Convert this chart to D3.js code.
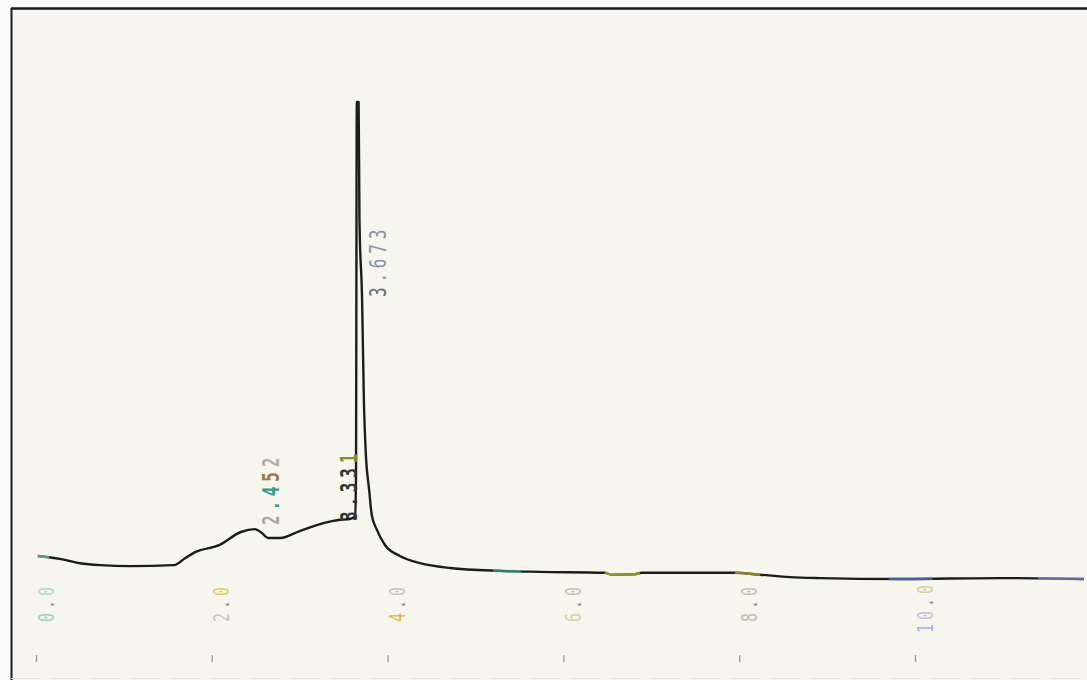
<!DOCTYPE html>
<html><head><meta charset="utf-8">
<script src="https://cdn.jsdelivr.net/npm/d3@7"></script>
<style>
html,body{margin:0;padding:0;background:#fbfbf8;}
svg{display:block;}
</style></head>
<body>
<svg id="c" width="1087" height="680"></svg>
<script>
// Retention time (min) and detector signal (relative units)
const times  = [0.02,0.27,0.50,0.73,1.07,1.57,1.70,1.81,2.09,2.33,2.49,2.57,2.64,2.78,3.00,3.28,3.44,3.57,3.63,3.64,3.65,3.67,3.68,3.71,3.73,3.75,3.79,3.82,3.88,3.97,4.14,4.37,4.71,5.28,5.73,6.47,6.55,6.81,6.89,7.95,8.24,8.58,8.92,9.83,10.97,11.92];
const signal = [5.0,4.4,3.5,3.1,2.9,3.1,4.6,5.8,7.3,10.0,10.6,9.8,8.75,8.75,10.2,11.9,12.5,12.7,13.3,20.8,99.6,99.6,75.0,58.3,37.5,27.1,18.8,13.5,10.4,7.3,5.0,3.5,2.5,1.9,1.7,1.5,1.1,1.2,1.5,1.5,1.1,0.6,0.4,0.2,0.4,0.2];
// Peak labels
const peakTimes  = [2.452, 3.331, 3.673];
const peakLabels = ["2.452", "3.331", "3.673"];
// Axis ticks
const tickValues = [0, 2, 4, 6, 8, 10];
const tickLabels = ["0.0", "2.0", "4.0", "6.0", "8.0", "10.0"];
// Coloured baseline (integration) segments [start, end]
const segStart = [0.02, 5.20, 6.47, 7.95, 9.70, 11.40];
const segEnd   = [0.15, 5.52, 6.87, 8.24, 10.20, 11.92];

const svg = d3.select("#c");
const W = 1087, H = 680;

// Page / frame
svg.append("rect").attr("x",0).attr("y",0).attr("width",W).attr("height",H).attr("fill","#fbfbf8");
svg.append("rect").attr("x",11).attr("y",8).attr("width",W-11).attr("height",H-8).attr("fill","#f6f6ee");
svg.append("line").attr("x1",11).attr("x2",W).attr("y1",8.5).attr("y2",8.5).attr("stroke","#1a1a1a").attr("stroke-width",2.5);
svg.append("line").attr("x1",11.5).attr("x2",11.5).attr("y1",8).attr("y2",H).attr("stroke","#1a1a1a").attr("stroke-width",2);
svg.append("line").attr("x1",11).attr("x2",W).attr("y1",678.5).attr("y2",678.5).attr("stroke","#e4e4de").attr("stroke-width",1).attr("stroke-dasharray","30,10");

const x = d3.scaleLinear().domain([0,10]).range([36,915]);
const y = d3.scaleLinear().domain([0,100]).range([580,100]);

const pts = times.map((t,i)=>[t, signal[i]]);
const line = d3.line().x(d=>x(d[0])).y(d=>y(d[1])).curve(d3.curveMonotoneX);

svg.append("path").datum(pts).attr("d",line)
  .attr("fill","none").attr("stroke","#1c1c1c").attr("stroke-width",2.4)
  .attr("stroke-linejoin","round");

// coloured segments via clip paths
const segColors = ["#7fd0a0","#3aa890","#b8c830","#b8a838","#5a78d0","#8088d8"];
const defs = svg.append("defs");
segStart.forEach((s,i)=>{
  const id = "seg"+i;
  defs.append("clipPath").attr("id",id).append("rect")
    .attr("x",x(s)).attr("width",x(segEnd[i])-x(s)).attr("y",0).attr("height",H);
  svg.append("path").datum(pts).attr("d",line).attr("clip-path","url(#"+id+")")
    .attr("fill","none").attr("stroke",segColors[i]).attr("stroke-width",2.6).attr("opacity",0.7);
});

// Axis (tick marks near bottom)
const axis = d3.axisBottom(x).tickValues(tickValues).tickSize(7).tickFormat((d,i)=>tickLabels[i]);
const ag = svg.append("g").attr("transform","translate(0,655)").call(axis);
ag.select(".domain").remove();
ag.selectAll(".tick line").attr("stroke","#9a9a94").attr("stroke-width",1.3);
const tickColors = [
  ["#a8cfc0","#b8d8cc"],
  ["#c8c8b8","#e2d060"],
  ["#d4bc3c","#c8c8c0"],
  ["#d8d0a0","#c4c4b4"],
  ["#c0c0b4","#c8c4b0"],
  ["#b4acea","#c8c4d8","#d8d0a0"]
];
ag.selectAll(".tick text").each(function(d,i){
  const t = d3.select(this);
  const startY = tickLabels[i].length > 3 ? -22 : -33;
  t.text(null)
   .attr("y",null).attr("dy",null)
   .attr("text-anchor","start")
   .attr("transform",`translate(17,${startY}) rotate(-90) scale(1,1.45)`)
   .attr("font-family","DejaVu Sans Mono, monospace")
   .attr("font-size",15).attr("letter-spacing",4).attr("fill","#c0c0b0");
  let ci = 0;
  tickLabels[i].split("").forEach(ch=>{
    const col = ch==="." ? "#8a8a84" : (tickColors[i][ci++] || "#c0c0b0");
    t.append("tspan").attr("fill",col).text(ch);
  });
});

// Peak labels
const labelColors = [
  ["#a8a8a0","#3a9a8a","#3a9a8a","#9a7a40","#b0b0a8"],
  ["#333330","#333330","#333330","#333330","#8a8a30"],
  ["#6a7080","#8a94a8","#8a94a8","#8a94a8","#8a94a8"]
];
const labelShift = [27, 28, 27];   // baseline offset right of the peak (px)
const labelStart = [525, 521, 297];
const lg = svg.append("g");
peakLabels.forEach((lab,i)=>{
  const px = x(peakTimes[i]) + labelShift[i];
  const t = lg.append("text")
    .attr("transform",`translate(${px},${labelStart[i]}) rotate(-90) scale(1,1.45)`)
    .attr("font-family","DejaVu Sans Mono, monospace")
    .attr("font-weight", i===2 ? "normal" : "bold")
    .attr("font-size",16).attr("letter-spacing",4.8);
  lab.split("").forEach((ch,k)=>t.append("tspan").attr("fill",labelColors[i][k]).text(ch));
});
</script>
</body></html>
